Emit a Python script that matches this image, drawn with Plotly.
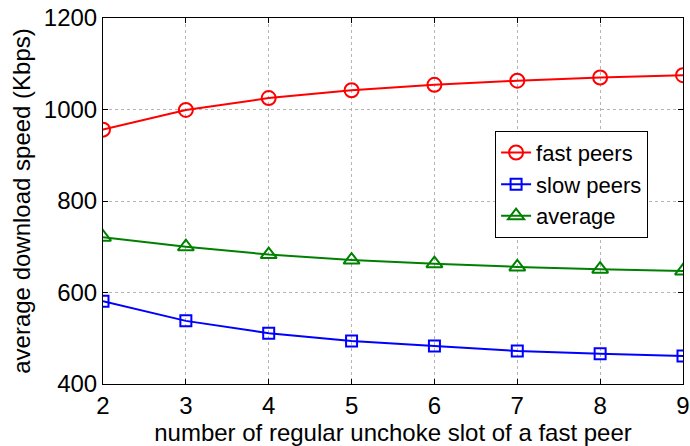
import plotly.graph_objects as go

x_slots = [2, 3, 4, 5, 6, 7, 8, 9]
fast_peers = [956, 999, 1025, 1042, 1054, 1063, 1070, 1075]
slow_peers = [581, 538, 511, 494, 483, 472, 466, 461]
average = [721, 700, 683, 671, 663, 656, 651, 647]

fig = go.Figure()
fig.add_trace(go.Scatter(x=x_slots, y=fast_peers, name="fast peers", mode="lines+markers",
                         line=dict(color="#ff0000", width=2),
                         marker=dict(symbol="circle-open", size=14, color="#ff0000", line=dict(width=2))))
fig.add_trace(go.Scatter(x=x_slots, y=slow_peers, name="slow peers", mode="lines+markers",
                         line=dict(color="#0000ff", width=2),
                         marker=dict(symbol="square-open", size=11, color="#0000ff", line=dict(width=2))))
fig.add_trace(go.Scatter(x=x_slots, y=average, name="average", mode="lines+markers",
                         line=dict(color="#008000", width=2),
                         marker=dict(symbol="triangle-up-open", size=14, color="#008000", line=dict(width=2))))

axis_common = dict(showline=True, linecolor="black", linewidth=1, mirror="ticks",
                   ticks="inside", ticklen=5, tickcolor="black",
                   showgrid=True, gridcolor="#b4b4b4", griddash="dot", gridwidth=1,
                   zeroline=False, tickfont=dict(size=24, color="black"),
                   ticklabeloverflow="allow")

fig.update_xaxes(range=[2, 9], dtick=1, **axis_common,
                 title=dict(text="number of regular unchoke slot of a fast peer",
                            font=dict(size=24, color="black"), standoff=0))
fig.update_yaxes(range=[400, 1200], dtick=200, **axis_common,
                 title=dict(text="average download speed (Kbps)",
                            font=dict(size=24, color="black"), standoff=6))

fig.update_layout(
    width=690, height=446,
    margin=dict(l=103, r=7, t=18, b=62, autoexpand=False),
    paper_bgcolor="white", plot_bgcolor="white",
    font=dict(family="Liberation Sans, Arial, sans-serif", color="black"),
    legend=dict(x=0.676, y=0.692, xanchor="left", yanchor="top",
                bordercolor="black", borderwidth=1, bgcolor="white",
                font=dict(size=22, color="black"), tracegroupgap=0, itemwidth=30),
    showlegend=True,
)

fig.write_html("out.html", config={"displayModeBar": False},
               post_script="document.body.style.margin='0';document.documentElement.style.overflow='hidden';")
